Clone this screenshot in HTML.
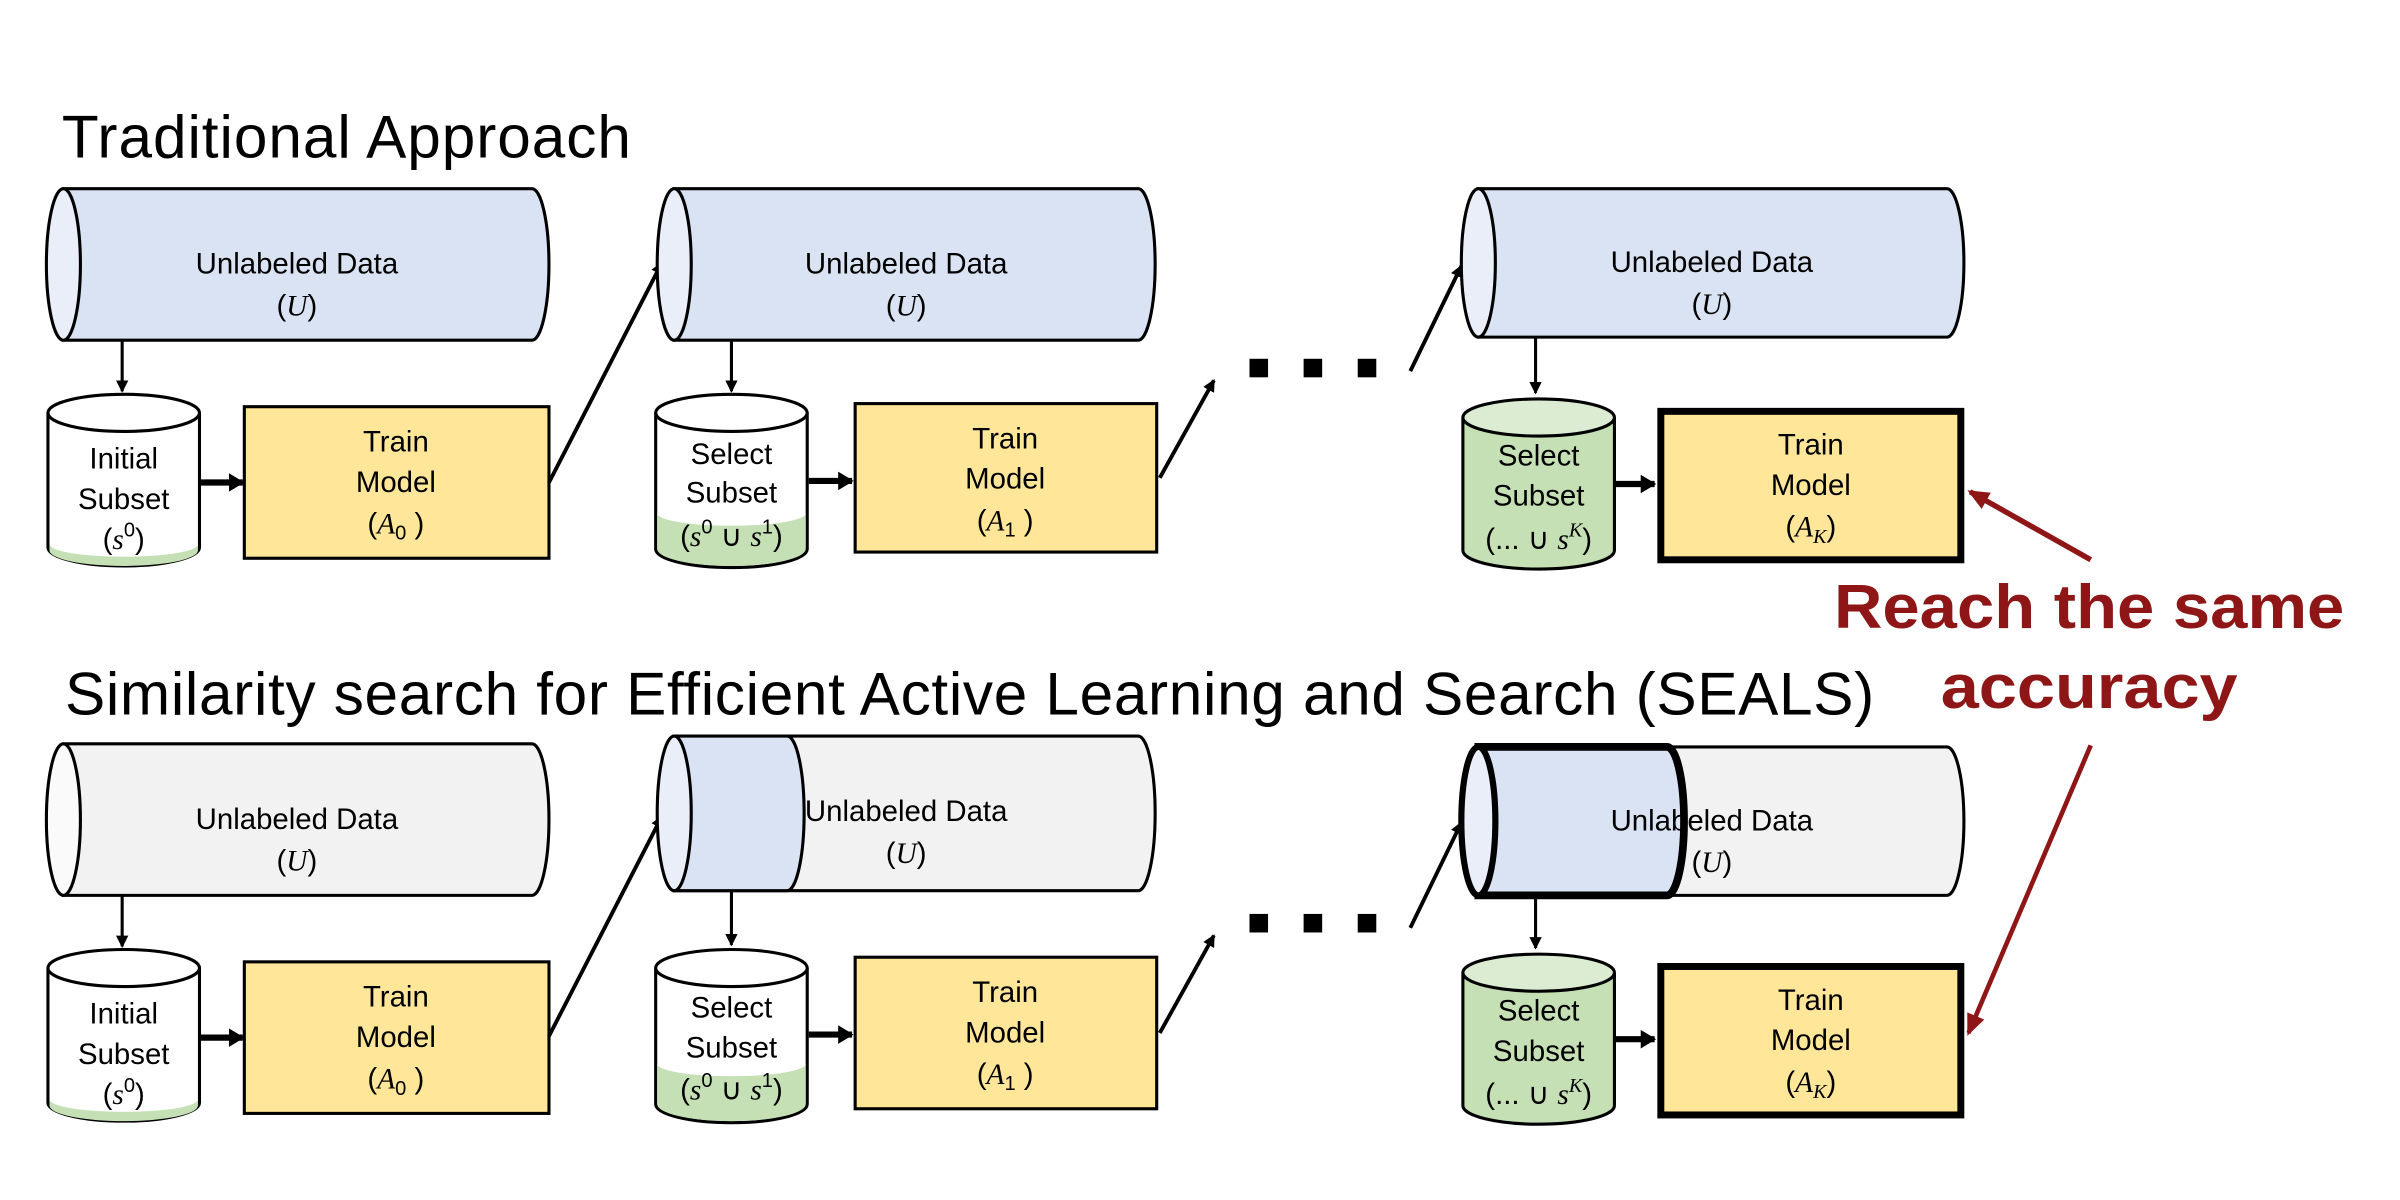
<!DOCTYPE html>
<html><head><meta charset="utf-8"><style>html,body{margin:0;padding:0;background:#fff}svg{display:block}</style></head>
<body>
<svg width="2400" height="1200" viewBox="0 0 1552 776" xmlns="http://www.w3.org/2000/svg" font-family="Liberation Sans, sans-serif">
<defs>
<marker id="ah" markerWidth="8" markerHeight="8" refX="7" refY="4" orient="auto" markerUnits="userSpaceOnUse"><path d="M0,0 L8,4 L0,8 Z" fill="#000"/></marker>
<marker id="ahs" markerWidth="10" markerHeight="12" refX="9" refY="6" orient="auto" markerUnits="userSpaceOnUse"><path d="M0,0 L10,6 L0,12 Z" fill="#000"/></marker>
<marker id="ar" markerWidth="14" markerHeight="12" refX="12" refY="6" orient="auto" markerUnits="userSpaceOnUse"><path d="M0,0 L14,6 L0,12 Z" fill="#8e1616"/></marker>
</defs>
<style>
.t{font-size:19px;text-anchor:middle;fill:#000}
.m{font-family:"Liberation Serif",serif;font-style:italic}
.ti{font-size:39px;fill:#000;font-weight:300}
</style>

<text x="40" y="102" class="ti" textLength="368">Traditional Approach</text>
<text x="42" y="462" class="ti" textLength="1170">Similarity search for Efficient Active Learning and Search (SEALS)</text>

<!-- ===== ROW 1 ===== -->
<path d="M41,122 L344,122 A11,49 0 0 1 344,220 L41,220 Z" fill="#dae3f3" stroke="#000" stroke-width="2"/>
<ellipse cx="41" cy="171" rx="11" ry="49" fill="#e9eef8" stroke="#000" stroke-width="2"/>
<text x="192" y="177" class="t">Unlabeled Data</text>
<text x="192" y="204" class="t">(<tspan class="m">U</tspan>)</text>
<line x1="79" y1="220" x2="79" y2="253" stroke="#000" stroke-width="2" marker-end="url(#ah)"/>
<path d="M31,267 L31,354 A49,12 0 0 0 129,354 L129,267" fill="#fff" stroke="#000" stroke-width="2"/>
<path d="M32,356 A48,10 0 0 0 128,356 L128,352 A48,8 0 0 1 32,352Z" fill="#c5e0b4"/>
<ellipse cx="80" cy="267" rx="49" ry="12" fill="#fff" stroke="#000" stroke-width="2"/>
<text x="80" y="303" class="t">Initial</text>
<text x="80" y="329" class="t">Subset</text>
<text x="80" y="355" class="t">(<tspan class="m">s</tspan><tspan dy="-8" font-size="13">0</tspan><tspan dy="8">)</tspan></text>
<line x1="130" y1="312" x2="157" y2="312" stroke="#000" stroke-width="4" marker-end="url(#ahs)"/>
<rect x="158" y="263" width="197" height="98" fill="#ffe699" stroke="#000" stroke-width="2"/>
<text x="256" y="292" class="t">Train</text>
<text x="256" y="318" class="t">Model</text>
<text x="256" y="345" class="t">(<tspan class="m">A</tspan><tspan font-size="13" dy="4">0</tspan><tspan dy="-4"> )</tspan></text>
<line x1="355" y1="312" x2="428" y2="170" stroke="#000" stroke-width="2.5" marker-end="url(#ah)"/>
<path d="M436,122 L736,122 A11,49 0 0 1 736,220 L436,220 Z" fill="#dae3f3" stroke="#000" stroke-width="2"/>
<ellipse cx="436" cy="171" rx="11" ry="49" fill="#e9eef8" stroke="#000" stroke-width="2"/>
<text x="586" y="177" class="t">Unlabeled Data</text>
<text x="586" y="204" class="t">(<tspan class="m">U</tspan>)</text>
<line x1="473" y1="220" x2="473" y2="253" stroke="#000" stroke-width="2" marker-end="url(#ah)"/>
<path d="M424,267 L424,355 A49,12 0 0 0 522,355 L522,267" fill="#fff" stroke="#000" stroke-width="2"/>
<path d="M425,332 A48,8 0 0 0 521,332 L521,355 A48,11 0 0 1 425,355Z" fill="#c5e0b4"/>
<ellipse cx="473" cy="267" rx="49" ry="12" fill="#fff" stroke="#000" stroke-width="2"/>
<text x="473" y="300" class="t">Select</text>
<text x="473" y="325" class="t">Subset</text>
<text x="473" y="353" class="t">(<tspan class="m">s</tspan><tspan dy="-8" font-size="13">0</tspan><tspan dy="8"> ∪ </tspan><tspan class="m">s</tspan><tspan dy="-8" font-size="13">1</tspan><tspan dy="8">)</tspan></text>
<line x1="523" y1="311" x2="551" y2="311" stroke="#000" stroke-width="4" marker-end="url(#ahs)"/>
<rect x="553" y="261" width="195" height="96" fill="#ffe699" stroke="#000" stroke-width="2"/>
<text x="650" y="290" class="t">Train</text>
<text x="650" y="316" class="t">Model</text>
<text x="650" y="343" class="t">(<tspan class="m">A</tspan><tspan font-size="13" dy="4">1</tspan><tspan dy="-4"> )</tspan></text>
<line x1="750" y1="309" x2="785" y2="246" stroke="#000" stroke-width="2.5" marker-end="url(#ah)"/>
<rect x="808" y="232" width="12" height="12" fill="#000"/>
<rect x="843" y="232" width="12" height="12" fill="#000"/>
<rect x="878" y="232" width="12" height="12" fill="#000"/>
<line x1="912" y1="240" x2="945" y2="172" stroke="#000" stroke-width="2.5" marker-end="url(#ah)"/>
<path d="M956,122 L1259,122 A11,48 0 0 1 1259,218 L956,218 Z" fill="#dae3f3" stroke="#000" stroke-width="2"/>
<ellipse cx="956" cy="170" rx="11" ry="48" fill="#e9eef8" stroke="#000" stroke-width="2"/>
<text x="1107" y="176" class="t">Unlabeled Data</text>
<text x="1107" y="203" class="t">(<tspan class="m">U</tspan>)</text>
<line x1="993" y1="218" x2="993" y2="254" stroke="#000" stroke-width="2" marker-end="url(#ah)"/>
<path d="M946,270 L946,356 A49,12 0 0 0 1044,356 L1044,270" fill="#c5e0b4" stroke="#000" stroke-width="2"/>
<ellipse cx="995" cy="270" rx="49" ry="12" fill="#dbecd3" stroke="#000" stroke-width="2"/>
<text x="995" y="301" class="t">Select</text>
<text x="995" y="327" class="t">Subset</text>
<text x="995" y="355" class="t">(... ∪ <tspan class="m">s</tspan><tspan dy="-8" font-size="13" class="m">K</tspan><tspan dy="8">)</tspan></text>
<line x1="1045" y1="313" x2="1070" y2="313" stroke="#000" stroke-width="4" marker-end="url(#ahs)"/>
<rect x="1074" y="266" width="194" height="96" fill="#ffe699" stroke="#000" stroke-width="4.5"/>
<text x="1171" y="294" class="t">Train</text>
<text x="1171" y="320" class="t">Model</text>
<text x="1171" y="347" class="t">(<tspan class="m">A</tspan><tspan font-size="13" dy="4" class="m">K</tspan><tspan dy="-4">)</tspan></text>

<!-- red -->
<line x1="1352" y1="362" x2="1274" y2="318" stroke="#8e1616" stroke-width="3.5" marker-end="url(#ar)"/>
<text x="1351" y="406" font-size="40" font-weight="bold" fill="#8e1616" text-anchor="middle" textLength="330" lengthAdjust="spacingAndGlyphs">Reach the same</text>
<text x="1351" y="458" font-size="40" font-weight="bold" fill="#8e1616" text-anchor="middle" textLength="192" lengthAdjust="spacingAndGlyphs">accuracy</text>
<line x1="1352" y1="482" x2="1273" y2="668" stroke="#8e1616" stroke-width="3" marker-end="url(#ar)"/>

<!-- ===== ROW 2 ===== -->
<path d="M41,481 L344,481 A11,49 0 0 1 344,579 L41,579 Z" fill="#f2f2f2" stroke="#000" stroke-width="2"/>
<ellipse cx="41" cy="530" rx="11" ry="49" fill="#fafafa" stroke="#000" stroke-width="2"/>
<text x="192" y="536" class="t">Unlabeled Data</text>
<text x="192" y="563" class="t">(<tspan class="m">U</tspan>)</text>
<line x1="79" y1="579" x2="79" y2="612" stroke="#000" stroke-width="2" marker-end="url(#ah)"/>
<path d="M31,626 L31,713 A49,12 0 0 0 129,713 L129,626" fill="#fff" stroke="#000" stroke-width="2"/>
<path d="M32,715 A48,10 0 0 0 128,715 L128,711 A48,8 0 0 1 32,711Z" fill="#c5e0b4"/>
<ellipse cx="80" cy="626" rx="49" ry="12" fill="#fff" stroke="#000" stroke-width="2"/>
<text x="80" y="662" class="t">Initial</text>
<text x="80" y="688" class="t">Subset</text>
<text x="80" y="714" class="t">(<tspan class="m">s</tspan><tspan dy="-8" font-size="13">0</tspan><tspan dy="8">)</tspan></text>
<line x1="130" y1="671" x2="157" y2="671" stroke="#000" stroke-width="4" marker-end="url(#ahs)"/>
<rect x="158" y="622" width="197" height="98" fill="#ffe699" stroke="#000" stroke-width="2"/>
<text x="256" y="651" class="t">Train</text>
<text x="256" y="677" class="t">Model</text>
<text x="256" y="704" class="t">(<tspan class="m">A</tspan><tspan font-size="13" dy="4">0</tspan><tspan dy="-4"> )</tspan></text>
<line x1="355" y1="670" x2="428" y2="528" stroke="#000" stroke-width="2.5" marker-end="url(#ah)"/>
<path d="M436,476 L736,476 A11,50 0 0 1 736,576 L436,576 Z" fill="#f2f2f2" stroke="#000" stroke-width="2"/>
<path d="M436,476 L509,476 A11,50 0 0 1 509,576 L436,576 Z" fill="#dae3f3" stroke="#000" stroke-width="2"/>
<ellipse cx="436" cy="526" rx="11" ry="50" fill="#e9eef8" stroke="#000" stroke-width="2"/>
<text x="586" y="531" class="t">Unlabeled Data</text>
<text x="586" y="558" class="t">(<tspan class="m">U</tspan>)</text>
<line x1="473" y1="576" x2="473" y2="611" stroke="#000" stroke-width="2" marker-end="url(#ah)"/>
<path d="M424,626 L424,714 A49,12 0 0 0 522,714 L522,626" fill="#fff" stroke="#000" stroke-width="2"/>
<path d="M425,688 A48,8 0 0 0 521,688 L521,714 A48,11 0 0 1 425,714Z" fill="#c5e0b4"/>
<ellipse cx="473" cy="626" rx="49" ry="12" fill="#fff" stroke="#000" stroke-width="2"/>
<text x="473" y="658" class="t">Select</text>
<text x="473" y="684" class="t">Subset</text>
<text x="473" y="711" class="t">(<tspan class="m">s</tspan><tspan dy="-8" font-size="13">0</tspan><tspan dy="8"> ∪ </tspan><tspan class="m">s</tspan><tspan dy="-8" font-size="13">1</tspan><tspan dy="8">)</tspan></text>
<line x1="523" y1="669" x2="551" y2="669" stroke="#000" stroke-width="4" marker-end="url(#ahs)"/>
<rect x="553" y="619" width="195" height="98" fill="#ffe699" stroke="#000" stroke-width="2"/>
<text x="650" y="648" class="t">Train</text>
<text x="650" y="674" class="t">Model</text>
<text x="650" y="701" class="t">(<tspan class="m">A</tspan><tspan font-size="13" dy="4">1</tspan><tspan dy="-4"> )</tspan></text>
<line x1="750" y1="668" x2="785" y2="605" stroke="#000" stroke-width="2.5" marker-end="url(#ah)"/>
<rect x="808" y="591" width="12" height="12" fill="#000"/>
<rect x="843" y="591" width="12" height="12" fill="#000"/>
<rect x="878" y="591" width="12" height="12" fill="#000"/>
<line x1="912" y1="600" x2="945" y2="532" stroke="#000" stroke-width="2.5" marker-end="url(#ah)"/>
<path d="M956,483 L1259,483 A11,48 0 0 1 1259,579 L956,579 Z" fill="#f2f2f2" stroke="#000" stroke-width="2"/>
<path d="M956,483 L1078,483 A11,48 0 0 1 1078,579 L956,579 Z" fill="#dae3f3" stroke="#000" stroke-width="5"/>
<ellipse cx="956" cy="531" rx="11" ry="48" fill="#e9eef8" stroke="#000" stroke-width="4"/>
<text x="1107" y="537" class="t">Unlabeled Data</text>
<text x="1107" y="564" class="t">(<tspan class="m">U</tspan>)</text>
<line x1="993" y1="580" x2="993" y2="613" stroke="#000" stroke-width="2" marker-end="url(#ah)"/>
<path d="M946,629 L946,715 A49,12 0 0 0 1044,715 L1044,629" fill="#c5e0b4" stroke="#000" stroke-width="2"/>
<ellipse cx="995" cy="629" rx="49" ry="12" fill="#dbecd3" stroke="#000" stroke-width="2"/>
<text x="995" y="660" class="t">Select</text>
<text x="995" y="686" class="t">Subset</text>
<text x="995" y="714" class="t">(... ∪ <tspan class="m">s</tspan><tspan dy="-8" font-size="13" class="m">K</tspan><tspan dy="8">)</tspan></text>
<line x1="1045" y1="672" x2="1070" y2="672" stroke="#000" stroke-width="4" marker-end="url(#ahs)"/>
<rect x="1074" y="625" width="194" height="96" fill="#ffe699" stroke="#000" stroke-width="4.5"/>
<text x="1171" y="653" class="t">Train</text>
<text x="1171" y="679" class="t">Model</text>
<text x="1171" y="706" class="t">(<tspan class="m">A</tspan><tspan font-size="13" dy="4" class="m">K</tspan><tspan dy="-4">)</tspan></text>
</svg>
</body></html>
